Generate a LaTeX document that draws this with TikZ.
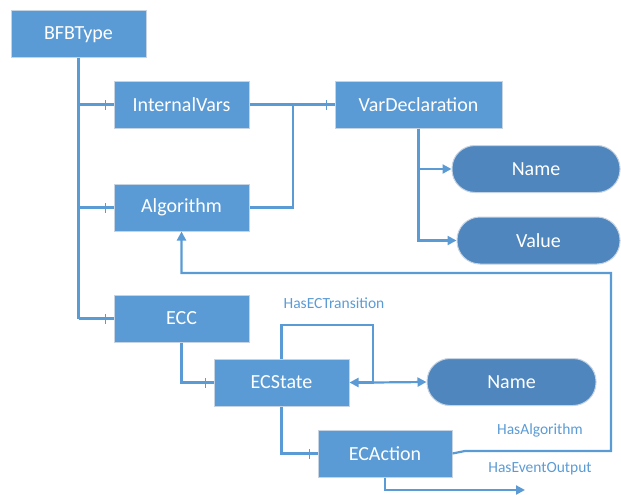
\documentclass[tikz,border=0pt]{standalone}
\usepackage{fontspec}
\setmainfont{Carlito}
\usetikzlibrary{arrows.meta, decorations.markings}
\definecolor{boxblue}{HTML}{5B9BD5}
\definecolor{pillblue}{HTML}{4F86BE}
\definecolor{rimgray}{HTML}{C5D3E2}
\tikzset{
    entity/.style={rectangle, draw=rimgray, line width=1pt, fill=boxblue, text=white, minimum width=135pt, minimum height=47pt, font=\fontsize{20}{22}\selectfont},
    attrib/.style={rectangle, rounded corners=23pt, draw=rimgray, line width=1pt, fill=pillblue, text=white, minimum height=47pt, font=\fontsize{20}{22}\selectfont},
    link/.style={draw=boxblue, line width=2.2pt},
    owns/.style={link, postaction={decorate}, decoration={markings, mark=at position -8pt with {\draw[boxblue, line width=1.8pt] (0,-5pt) -- (0,5pt);}}},
    refers/.style={link, -{Triangle[length=9pt, width=9pt]}},
    rolename/.style={text=boxblue, font=\fontsize{15.5}{17}\selectfont}
}
\begin{document}
\begin{tikzpicture}[x=1pt, y=-1pt]
            \useasboundingbox (0,0) rectangle (621,495);
            % Boxes
            \node at (78.5,34.5) [entity] (bfb) {BFBType};
            \node at (181.5,104.5) [entity] (ivars) {InternalVars};
            \node at (181.5,207.5) [entity] (algo) {Algorithm};
            \node at (418.5,104.5) [entity, minimum width=167pt] (vdecl) {VarDeclaration};
            \node at (536,169) [attrib, minimum width=168pt] (vname) {Name};
            \node at (538.5,240.5) [attrib, minimum width=163pt] (vvalue) {Value};
            \node at (181.5,318.5) [entity] (ecc) {ECC};
            \node at (281.5,382.5) [entity] (state) {ECState};
            \node at (385,453.5) [entity, minimum width=134pt] (action) {ECAction};
            \node at (511.5,382) [attrib, minimum width=169pt] (sname) {Name};
            \coordinate (out) at (525,490);
            
            % Containment
            \draw[link] (bfb.south) -- (bfb.south |- ecc.west);
            \draw[owns] (bfb.south |- ivars.west) -- (ivars.west);
            \draw[owns] (bfb.south |- algo.west) -- (algo.west);
            \draw[owns] (bfb.south |- ecc.west) -- (ecc.west);
            \draw[link] (ivars.east) -- (293,104.5) -- (293,207.5) -- (algo.east);
            \draw[owns] (293,104.5) -- (vdecl.west);
            \draw[refers] (vdecl.south) |- (vname.west);
            \draw[refers] (vdecl.south) |- (vvalue.west);
            \draw[owns] (ecc.south) |- (state.west);
            \draw[owns] (state.south) |- (action.west);
            
            % References
            \draw[refers] (state.north) -- (281.5,325) -- (373,325) -- (373,382.5) -- (state.east);
            \draw[refers] (373,382.5) -- (sname.west);
            \draw[refers] (action.east) -- (465,451) -- (611,451) -- (611,273) -- (181.5,273) -- (algo.south);
            \draw[refers] (action.south) |- (out);
            
            % Role names
            \node at (334,303) [rolename] (trans) {HasECTransition};
            \node at (540,430) [rolename] (hasalgo) {HasAlgorithm};
            \node at (540,469) [rolename] (hasout) {HasEventOutput};
            
            \end{tikzpicture}
\end{document}
